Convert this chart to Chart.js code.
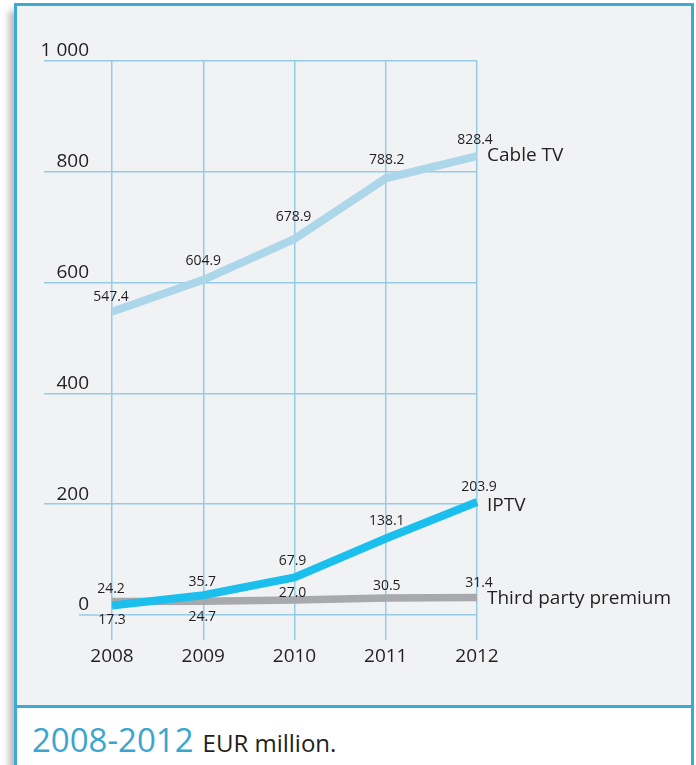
<!DOCTYPE html>
<html>
<head>
<meta charset="utf-8">
<script src="https://cdn.jsdelivr.net/npm/chart.js@4/dist/chart.umd.min.js"></script>
<style>
  html, body { margin: 0; padding: 0; background: #ffffff; width: 696px; height: 765px; overflow: hidden; }
  #frame {
    position: absolute; left: 14px; top: 3px; width: 680px; height: 800px;
    box-sizing: border-box; border: 3px solid #3caad2; border-bottom: none;
    background: #ffffff;
    box-shadow: -7px 6px 7px -2px rgba(0,0,0,0.28);
  }
  #panel {
    position: absolute; left: 0; top: 0; width: 100%; height: 699px;
    background: #f1f2f4; border-bottom: 3px solid #3caad2;
  }
  #caption {
    position: absolute; left: 32px; top: 723px; line-height: 33px; white-space: nowrap;
    font-family: 'Open Sans', sans-serif; color: #231f20;
  }
  #caption .yr { font-size: 33px; color: #3aa6d0; margin-right: 9px; }
  #caption .unit { font-size: 24px; }
  canvas { position: absolute; left: 0; top: 0; }
</style>
</head>
<body>
<div id="frame"><div id="panel"></div></div>
<div id="caption"><span class="yr">2008-2012</span><span class="unit">EUR million.</span></div>
<canvas id="c" width="696" height="765"></canvas>
<script>
// ---- data ----
const years = ['2008', '2009', '2010', '2011', '2012'];
const cableTV = [547.4, 604.9, 678.9, 788.2, 828.4];
const iptv = [17.3, 35.7, 67.9, 138.1, 203.9];
const thirdParty = [24.2, 24.7, 27.0, 30.5, 31.4];
const seriesNames = ['Cable TV', 'IPTV', 'Third party premium'];
const yTicks = [0, 200, 400, 600, 800, 1000];

// ---- styling ----
const TEXT = '#231f20';
const GRID = '#94cbe5';
const FONT = "'Open Sans', sans-serif";
// label offsets relative to each point (text centre)
const labelOffsets = [
  [[-1,-15],[0,-19],[-1,-22],[1,-18],[-2,-16]],
  [[0,15],[-1,-13],[-2,-16],[1,-17],[2,-15]],
  [[-1,-13],[-1,16],[-2,-7],[1,-12],[2,-15]]
];
const nameOffsets = [[10,0],[10,4],[10,1]];

const labelPlugin = {
  id: 'labels',
  afterDatasetsDraw(chart) {
    const ctx = chart.ctx;
    ctx.save();
    // extension of the zero gridline
    const ys = chart.scales.y;
    const y0 = ys.getPixelForValue(0);
    ctx.strokeStyle = GRID; ctx.lineWidth = 1.5;
    ctx.beginPath(); ctx.moveTo(79, y0); ctx.lineTo(chart.chartArea.left, y0); ctx.stroke();

    chart.data.datasets.forEach((ds, di) => {
      const meta = chart.getDatasetMeta(di);
      ctx.fillStyle = TEXT;
      ctx.font = "14px " + FONT;
      ctx.textAlign = 'center';
      ctx.textBaseline = 'middle';
      meta.data.forEach((pt, i) => {
        const o = labelOffsets[di][i];
        ctx.fillText(ds.data[i].toFixed(1), pt.x + o[0], pt.y + o[1]);
      });
      const last = meta.data[meta.data.length - 1];
      ctx.font = "19px " + FONT;
      ctx.textAlign = 'left';
      ctx.fillText(seriesNames[di], last.x + nameOffsets[di][0], last.y + nameOffsets[di][1]);
    });
    ctx.restore();
  }
};

new Chart(document.getElementById('c'), {
  type: 'line',
  data: {
    labels: years,
    datasets: [
      { label: seriesNames[0], data: cableTV, borderColor: '#acd6ea', borderWidth: 8, pointRadius: 0, fill: false, tension: 0 },
      { label: seriesNames[1], data: iptv, borderColor: '#1bbfee', borderWidth: 8, pointRadius: 0, fill: false, tension: 0 },
      { label: seriesNames[2], data: thirdParty, borderColor: '#a7a9ac', borderWidth: 7.5, pointRadius: 0, fill: false, tension: 0 }
    ]
  },
  options: {
    responsive: false,
    animation: false,
    devicePixelRatio: 1,
    layout: { padding: { left: 0, right: 219, top: 61, bottom: 90 } },
    plugins: { legend: { display: false }, tooltip: { enabled: false } },
    scales: {
      x: {
        type: 'category',
        offset: false,
        border: { display: false },
        grid: { color: GRID, lineWidth: 1.5, tickLength: 25, tickColor: GRID, drawTicks: true },
        ticks: { color: TEXT, font: { family: FONT, size: 19 }, padding: 5, maxRotation: 0 },
        afterFit(s) { s.height = 60; }
      },
      y: {
        min: 0, max: 1000,
        afterBuildTicks(s) { s.ticks = yTicks.map(v => ({ value: v })); },
        border: { display: false },
        grid: {
          color: GRID, lineWidth: 1.5, tickLength: 68,
          tickColor: (c) => (c.tick && c.tick.value === 0) ? 'rgba(0,0,0,0)' : GRID
        },
        ticks: {
          color: TEXT, font: { family: FONT, size: 19 }, padding: -45, labelOffset: -10,
          callback: (v) => v === 1000 ? '1 000' : String(v)
        },
        afterFit(s) { s.width = 112; }
      }
    }
  },
  plugins: [labelPlugin]
});
</script>
</body>
</html>
